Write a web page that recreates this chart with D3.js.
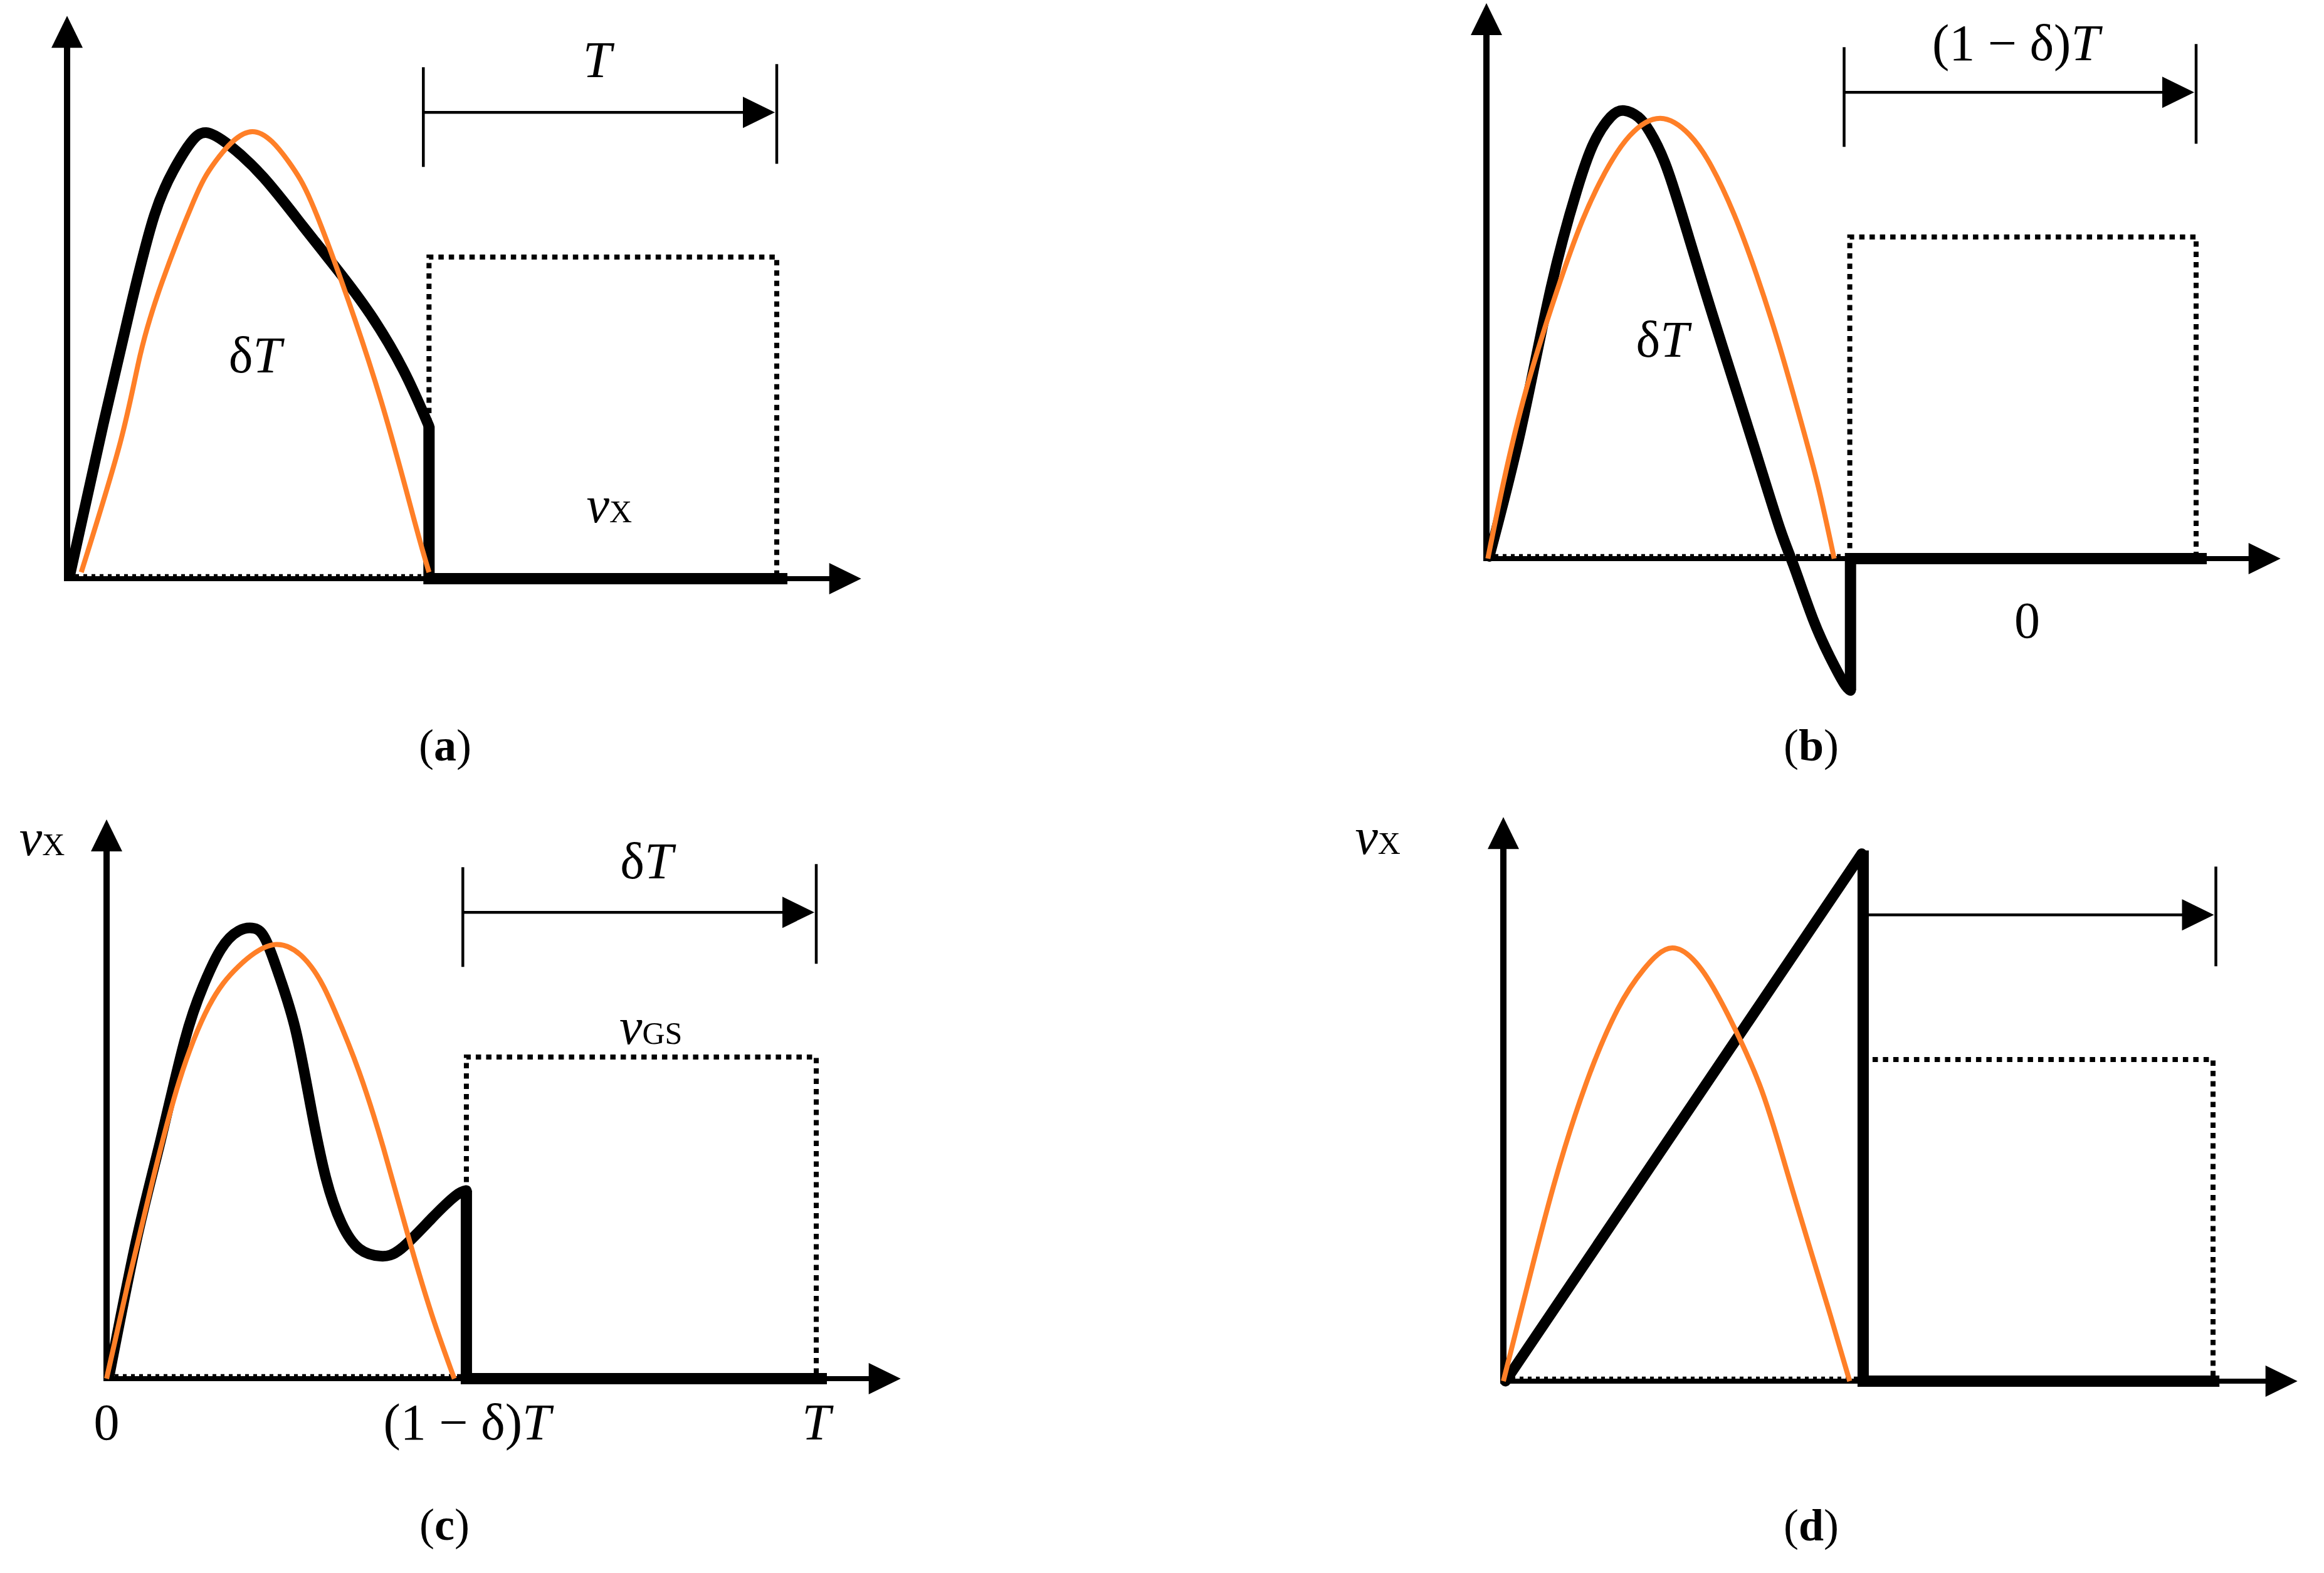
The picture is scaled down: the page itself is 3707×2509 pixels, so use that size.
<!DOCTYPE html>
<html>
<head>
<meta charset="utf-8">
<script src="https://cdn.jsdelivr.net/npm/d3@7"></script>
<style>
body { margin: 0; background: #fff; }
text { font-family: "Liberation Serif", "DejaVu Serif", serif; }
</style>
</head>
<body>
<div id="chart"></div>
<script>
const width = 3707
const height = 2509

// all curves: [t / T, v / V_GS]
const blackA = [[0.004,0.012],[0.051,0.48],[0.091,0.86],[0.123,1.13],[0.150,1.27],[0.174,1.355],[0.196,1.387],[0.229,1.347],[0.277,1.247],[0.332,1.097],[0.379,0.966],[0.427,0.823],[0.474,0.648],[0.510,0.474]]
const tailA = [[0.510,0.474],[0.510,0],[1.015,0]]
const orangeA = [[0.020,0.02],[0.075,0.424],[0.103,0.695],[0.134,0.923],[0.178,1.172],[0.209,1.297],[0.261,1.39],[0.312,1.297],[0.344,1.172],[0.387,0.923],[0.443,0.549],[0.490,0.175],[0.510,0.02]]

const blackB = [[0.004,0.007],[0.048,0.396],[0.091,0.843],[0.127,1.142],[0.151,1.291],[0.175,1.373],[0.194,1.393],[0.214,1.373],[0.230,1.328],[0.254,1.216],[0.286,0.993],[0.317,0.769],[0.349,0.545],[0.381,0.321],[0.413,0.097],[0.433,-0.022],[0.460,-0.187],[0.484,-0.306],[0.504,-0.388],[0.513,-0.41]]
const tailB = [[0.513,-0.41],[0.513,0],[1.015,0]]
const orangeB = [[0.002,0],[0.024,0.236],[0.056,0.525],[0.099,0.830],[0.135,1.050],[0.167,1.200],[0.202,1.315],[0.245,1.369],[0.286,1.318],[0.317,1.220],[0.349,1.070],[0.381,0.880],[0.413,0.660],[0.444,0.420],[0.468,0.220],[0.490,0]]

const blackC = [[0.004,0.013],[0.042,0.43],[0.076,0.74],[0.110,1.05],[0.136,1.22],[0.161,1.335],[0.186,1.392],[0.208,1.400],[0.225,1.361],[0.246,1.235],[0.267,1.078],[0.288,0.843],[0.309,0.624],[0.331,0.483],[0.356,0.404],[0.386,0.381],[0.415,0.404],[0.458,0.498],[0.492,0.569],[0.507,0.585]]
const tailC = [[0.507,0.585],[0.507,0],[1.015,0]]
const orangeC = [[0,0],[0.030,0.295],[0.064,0.608],[0.102,0.922],[0.144,1.157],[0.186,1.282],[0.239,1.350],[0.288,1.282],[0.322,1.141],[0.356,0.953],[0.390,0.718],[0.424,0.451],[0.458,0.201],[0.490,0]]

const blackD = [[0.003,0],[0.505,1.64]]
const tailD = [[0.507,1.65],[0.507,0],[1.009,0]]
const orangeD = [[0,0],[0.034,0.297],[0.071,0.609],[0.116,0.922],[0.161,1.156],[0.198,1.281],[0.238,1.347],[0.279,1.281],[0.316,1.141],[0.361,0.922],[0.397,0.672],[0.433,0.406],[0.461,0.203],[0.488,0]]

// gate pulse switching instant and period markers
const switchT = [0.51, 0.512, 0.507, 0.507]
const dimStart = [0.502, 0.504, 0.502, null]
const dimEnd = [1.0, 1.0, 1.0, 1.004]

// labels: [u, v, parts]  parts: [text, kind]
const labelsA = [
  [0.747, 1.56, [["T", "i"]]],
  [0.265, 0.642, [["δ", "n"], ["T", "i"]]],
  [0.764, 0.175, [["v", "i"], ["X", "s"]]]
]
const labelsB = [
  [0.746, 1.55, [["(1 − δ)", "n"], ["T", "i"]]],
  [0.248, 0.627, [["δ", "n"], ["T", "i"]]],
  [0.762, -0.246, [["0", "n"]]]
]
const labelsC = [
  [0.761, 1.556, [["δ", "n"], ["T", "i"]]],
  [0.767, 1.04, [["v", "i"], ["GS", "s"]]],
  [-0.091, 1.627, [["v", "i"], ["X", "s"]]],
  [0, -0.19, [["0", "n"]]],
  [0.508, -0.19, [["(1 − δ)", "n"], ["T", "i"]]],
  [1.0, -0.19, [["T", "i"]]]
]
const labelsD = [
  [-0.177, 1.64, [["v", "i"], ["X", "s"]]]
]
const captions = ["a", "b", "c", "d"]

const panelW = 1132
const panelH = 513
const panels = [
  {x0: 107, y0: 923, top: 1.75, black: blackA, tail: tailA, orange: orangeA, labels: labelsA, cap: [710, 1213]},
  {x0: 2371, y0: 891, top: 1.727, black: blackB, tail: tailB, orange: orangeB, labels: labelsB, cap: [2889, 1213]},
  {x0: 170, y0: 2199, top: 1.739, black: blackC, tail: tailC, orange: orangeC, labels: labelsC, cap: [709, 2456]},
  {x0: 2398, y0: 2203, top: 1.754, black: blackD, tail: tailD, orange: orangeD, labels: labelsD, cap: [2889, 2457]}
]

const svg = d3.select("div#chart").append("svg").attr("width", width).attr("height", height)
svg.append("rect").attr("width", width).attr("height", height).attr("fill", "#fff")

function head(g, tx, ty, dir) {
  const L = 51, B = 25
  const pts = dir === "right"
    ? [[tx, ty], [tx - L, ty - B], [tx - L, ty + B]]
    : [[tx, ty], [tx - B, ty + L], [tx + B, ty + L]]
  g.append("path").attr("d", "M" + pts.join("L") + "Z").attr("fill", "#000")
}

panels.forEach((p, i) => {
  const x = d3.scaleLinear().domain([0, 1]).range([p.x0, p.x0 + panelW])
  const y = d3.scaleLinear().domain([0, 1]).range([p.y0, p.y0 - panelH])
  const lin = d3.line().x(d => x(d[0])).y(d => y(d[1]))
  const smooth = d3.line().x(d => x(d[0])).y(d => y(d[1])).curve(d3.curveNatural)
  const g = svg.append("g").attr("class", "panel-" + captions[i])
  const sw = switchT[i]

  // gate drive (dotted)
  g.append("path").attr("d", lin([[sw, 0], [sw, 1], [1, 1], [1, 0]]))
    .attr("fill", "none").attr("stroke", "#000").attr("stroke-width", 8).attr("stroke-dasharray", "8.5 8")

  // axes
  const xTip = 1.119
  g.append("line").attr("x1", x(0) - 5).attr("x2", x(xTip) - 40).attr("y1", y(0)).attr("y2", y(0))
    .attr("stroke", "#000").attr("stroke-width", 8)
  head(g, x(xTip), y(0), "right")
  g.append("line").attr("x1", x(0)).attr("x2", x(0)).attr("y1", y(0) + 4).attr("y2", y(p.top) + 40)
    .attr("stroke", "#000").attr("stroke-width", 10)
  head(g, x(0), y(p.top), "up")

  // off-interval dotted baseline
  g.append("path").attr("d", lin([[0, 0.01], [sw, 0.01]]))
    .attr("fill", "none").attr("stroke", "#000").attr("stroke-width", 4).attr("stroke-dasharray", "6 7")

  // period marker
  const yArr = y(1.45)
  if (dimStart[i] !== null) {
    g.append("line").attr("x1", x(dimStart[i])).attr("x2", x(dimStart[i])).attr("y1", y(1.28)).attr("y2", y(1.59))
      .attr("stroke", "#000").attr("stroke-width", 4.5)
  }
  g.append("line").attr("x1", x(dimEnd[i])).attr("x2", x(dimEnd[i])).attr("y1", y(1.29)).attr("y2", y(1.6))
    .attr("stroke", "#000").attr("stroke-width", 4.5)
  const xs = dimStart[i] !== null ? dimStart[i] : sw
  g.append("line").attr("x1", x(xs)).attr("x2", x(dimEnd[i]) - 45).attr("y1", yArr).attr("y2", yArr)
    .attr("stroke", "#000").attr("stroke-width", 4.5)
  head(g, x(dimEnd[i]) - 3, yArr, "right")

  // switch voltage (black) and resonant reference (orange)
  const blackLine = p.black.length > 2 ? smooth : lin
  g.append("path").attr("d", blackLine(p.black))
    .attr("fill", "none").attr("stroke", "#000").attr("stroke-width", 17).attr("stroke-linejoin", "round").attr("stroke-linecap", "round")
  g.append("path").attr("d", lin(p.tail))
    .attr("fill", "none").attr("stroke", "#000").attr("stroke-width", 18).attr("stroke-linejoin", "miter")
  g.append("path").attr("d", smooth(p.orange))
    .attr("fill", "none").attr("stroke", "#ff7f27").attr("stroke-width", 8)

  // labels
  p.labels.forEach(l => {
    const t = g.append("text").attr("x", x(l[0])).attr("y", y(l[1]))
      .attr("text-anchor", "middle").attr("font-size", 82).attr("fill", "#000")
    l[2].forEach(part => {
      const s = t.append("tspan").text(part[0])
      if (part[1] === "i") s.attr("font-style", "italic")
      if (part[1] === "s") s.attr("font-size", 50)
    })
  })

  // caption
  const c = svg.append("text").attr("x", p.cap[0]).attr("y", p.cap[1])
    .attr("text-anchor", "middle").attr("font-size", 72).attr("fill", "#000")
  c.append("tspan").text("(")
  c.append("tspan").attr("font-weight", "bold").text(captions[i])
  c.append("tspan").text(")")
})
</script>
</body>
</html>
